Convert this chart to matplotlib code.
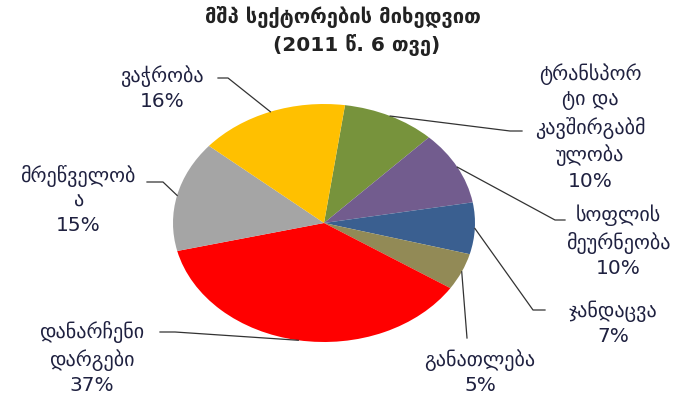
import numpy as np
import matplotlib.pyplot as plt

# GDP structure by sector, 2011 (6 months)
sectors = ["ტრანსპორ\nტი და\nკავშირგაბმ\nულობა", "სოფლის\nმეურნეობა", "ჯანდაცვა",
           "განათლება", "დანარჩენი\nდარგები", "მრეწველობ\nა", "ვაჭრობა"]
shares = [10, 10, 7, 5, 37, 15, 16]
colors = ["#77933C", "#725C8E", "#3A5F90", "#928A56", "#FF0000", "#A5A5A5", "#FFC000"]

title_1 = "მშპ სექტორების მიხედვით"
title_2 = "(2011 წ. 6 თვე)"

W, H = 685, 398
CX, CY, RX, RY = 324, 223, 151, 119   # pie centre / radii in pixels

# label centres and leader-line bends (pixels, y down)
label_pos = [(590, 127), (618, 241), (613, 323), (480, 372), (92, 358), (78, 200), (162, 88)]
leader_pts = [
    [(510, 131), (522, 131)],
    [(555, 220), (565, 220)],
    [(533, 310), (545, 310)],
    [(467, 338)],
    [(175, 332), (160, 332)],
    [(163, 182), (147, 182)],
    [(228, 78), (218, 78)],
]

text_color = "#1f2140"
plt.rcParams['font.family'] = ['DejaVu Sans']

fig = plt.figure(figsize=(W / 100, H / 100), dpi=100)
ax = fig.add_axes([(CX - RX) / W, (H - CY - RY) / H, 2 * RX / W, 2 * RY / H])

start = 82
wedges, _ = ax.pie(shares, colors=colors, startangle=start, counterclock=False,
                   radius=1, wedgeprops=dict(linewidth=0))
ax.set_aspect('auto')
ax.set_xlim(-1, 1)
ax.set_ylim(-1, 1)
ax.axis('off')


def to_data(p):
    return (p[0] - CX) / RX, (CY - p[1]) / RY


for w, name, val, lp, pts in zip(wedges, sectors, shares, label_pos, leader_pts):
    mid = np.deg2rad((w.theta1 + w.theta2) / 2)
    path = [(np.cos(mid), np.sin(mid))] + [to_data(p) for p in pts]
    xs, ys = zip(*path)
    ax.plot(xs, ys, color="#333333", lw=0.9, clip_on=False)
    tx, ty = to_data(lp)
    ax.text(tx, ty, f"{name}\n{val}%", ha='center', va='center', fontsize=14.5,
            color=text_color, linespacing=1.36, clip_on=False)

fig.text(343 / W, 1 - 17 / H, title_1, ha='center', va='center', fontsize=14.5,
         fontweight='bold', color="#222222")
fig.text(357 / W, 1 - 45 / H, title_2, ha='center', va='center', fontsize=14.5,
         fontweight='bold', color="#222222")

fig.savefig("out.png", dpi=100)
